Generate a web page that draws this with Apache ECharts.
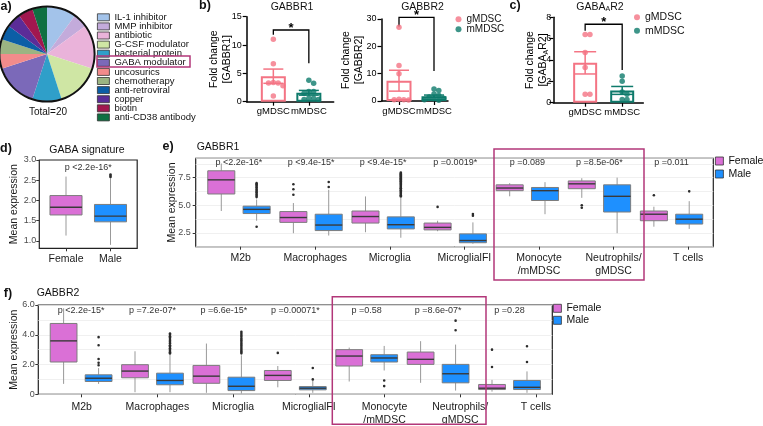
<!DOCTYPE html>
<html><head><meta charset="utf-8">
<script src="https://cdn.jsdelivr.net/npm/echarts@6/dist/echarts.min.js"></script>
<style>html,body{margin:0;padding:0;background:#fff}#c{width:763px;height:426px}</style>
</head><body><div id="c"></div>
<script>
// ================= DATA =================
// a) drug classes (Total = 20)
const drugClasses = ['IL-1 inhibitor','MMP inhibitor','antibiotic','G-CSF modulator','bacterial protein','GABA modulator','uncosurics','chemotherapy','anti-retroviral','copper','biotin','anti-CD38 antibody'];
const drugCounts = [2,1,3,3,2,3,1,1,1,1,1,1];
// b) / c) fold change per sample
const mdscGroups = ['gMDSC','mMDSC'];
const gabbr1G = [11.0, 6.7, 3.4, 3.3, 3.3, 2.8, 1.0];
const gabbr1M = [3.8, 3.25, 1.8, 1.8, 1.5, 0.6, 0.6, 0.4, 0.4];
const gabbr2G = [27, 13, 10, 0.6, 0.5, 0.5, 0.4];
const gabbr2M = [4.4, 3.8, 2.6, 2.0, 1.5, 1.0, 0.8, 0.5, 0.3, 0.2];
const gabaar2G = [6.4, 6.4, 4.7, 3.3, 0.8, 0.8];
const gabaar2M = [2.5, 2.0, 1.0, 0.8, 0.3, 0.3];
// d) GABA signature  [min, Q1, median, Q3, max]
const sexes = ['Female','Male'];
const sigBox = [[1.13,1.64,1.83,2.12,2.59],[0.90,1.47,1.61,1.90,2.55]];
const sigOut = [[1,2.58],[1,2.61],[1,2.64]];
const sigP = ['p <2.2e-16*'];
// e) / f) per cell type
const cellTypes = ['M2b','Macrophages','Microglia','MicroglialFI','Monocyte\n/mMDSC','Neutrophils/\ngMDSC','T cells'];
const r1Female = [[4.48,6.02,7.30,8.12,8.78],[2.47,3.45,3.89,4.43,5.20],[2.56,3.39,3.98,4.48,5.80],[2.65,2.77,3.00,3.39,3.60],[5.81,6.32,6.56,6.85,7.00],[5.67,6.50,6.94,7.20,7.45],[3.06,3.60,4.19,4.48,4.87]];
const r1Male   = [[3.60,4.25,4.63,4.92,5.52],[2.26,2.71,3.21,4.19,6.40],[2.06,2.86,3.24,3.95,5.67],[1.52,1.61,1.81,2.41,3.45],[4.19,5.43,6.32,6.61,7.09],[2.47,4.39,5.81,6.85,7.50],[2.86,3.30,3.74,4.19,5.37]];
const r1FemaleOut = [[1,6.9],[1,6.45],[1,5.95],[3,4.85],[5,5.0],[5,4.78],[6,5.9]];
const r1MaleOut = [[0,7.0],[0,6.9],[0,6.78],[0,6.66],[0,6.57],[0,6.43],[0,6.31],[0,6.2],[0,6.12],[0,5.98],[0,5.85],[0,5.74],[0,3.05],
  [1,7.1],[1,6.65],
  [2,7.95],[2,7.88],[2,7.8],[2,7.71],[2,7.63],[2,7.52],[2,7.44],[2,7.35],[2,7.25],[2,7.17],[2,7.06],[2,6.97],[2,6.88],[2,6.76],[2,6.66],[2,6.55],[2,6.47],[2,6.36],[2,6.24],[2,6.13],[2,6.03],[2,5.91],[2,5.8],
  [3,4.2],[3,4.05],[6,6.26]];
const r1P = ['p <2.2e-16*','p <9.4e-15*','p <9.4e-15*','p =0.0019*','p =0.089','p =8.5e-06*','p =0.011'];
const r2Female = [[0.70,2.17,3.59,4.76,5.78],[0.14,1.11,1.56,1.99,2.89],[0.10,0.74,1.22,1.94,3.41],[0.47,0.93,1.27,1.60,1.90],[0.86,1.90,2.57,3.00,3.14],[0.77,2.01,2.35,2.84,3.57],[0.18,0.32,0.41,0.66,0.97]];
const r2Male   = [[0.70,0.86,1.08,1.31,1.76],[0.14,0.64,0.93,1.42,2.66],[0.05,0.25,0.54,1.15,2.62],[0.10,0.30,0.41,0.52,0.93],[1.60,2.17,2.44,2.66,3.25],[0.25,0.77,1.38,2.01,3.34],[0.10,0.32,0.47,0.93,1.54]];
const r2FemaleOut = [[3,2.78],[6,3.0],[6,1.83]];
const r2MaleOut = [[0,3.84],[0,3.3],[0,2.37],[0,2.12],[0,1.95],
  [1,4.08],[1,4.0],[1,3.9],[1,3.82],[1,3.71],[1,3.6],[1,3.52],[1,3.41],[1,3.3],[1,3.22],[1,3.1],[1,3.0],[1,2.91],[1,2.82],[1,2.74],
  [2,4.2],[2,4.1],[2,3.98],[2,3.88],[2,3.77],[2,3.66],[2,3.57],[2,3.45],[2,3.34],[2,3.25],[2,3.13],[2,3.02],[2,2.93],[2,2.84],[2,2.75],
  [3,1.77],[3,1.0],[4,0.93],[4,0.55],[5,4.95],[5,4.3],[6,3.23],[6,2.17]];
const r2P = ['p <2.2e-15*','p =7.2e-07*','p =6.6e-15*','p =0.00071*','p =0.58','p =8.6e-07*','p =0.28'];
const dTicks = [1.0,1.5,2.0,2.5,3.0];
const eTicks = [2.5,5.0,7.5];

// ================= STYLE =================
const FONT = '"Liberation Sans", Arial, Helvetica, sans-serif';
const pieColors = ['#a3c3ea','#c3abdb','#eab3da','#cfe6a4','#2f9fc9','#7b69b9','#f28b8b','#9bb482','#0b5ea6','#5b2c98','#a1174f','#0f7042'];
const C_G = '#f47484', C_M = '#0e7a6b', C_F = '#DA70D6', C_MA = '#1E90FF', HL = '#b23779';

function mean(a){return a.reduce((s,v)=>s+v,0)/a.length;}
function sem(a){const m=mean(a);return Math.sqrt(a.reduce((s,x)=>s+(x-m)*(x-m),0)/(a.length-1)/a.length);}
function swarm(vals, center, pxX, pxY){
  const d=4.6, step=2.4, placed=[], res=[];
  const order = vals.map((v,i)=>i).sort((a,b)=>vals[b]-vals[a]);
  order.forEach(i=>{
    const y=vals[i]*pxY; let dx=0;
    for(let k=0;k<40;k++){
      const cand = k===0?0:(k%2===1?1:-1)*Math.ceil(k/2)*step;
      if(placed.every(p=>Math.hypot(p[0]-cand,p[1]-y)>=d)){dx=cand;break;}
    }
    placed.push([dx,y]); res.push([center+dx/pxX, vals[i]]);
  });
  return res;
}

const grids=[], xAxes=[], yAxes=[], series=[];
function addGrid(g){grids.push(Object.assign({outerBoundsMode:'none',containLabel:false},g));return grids.length-1;}

// ---- a) pie
series.push({type:'pie', center:[47,54], radius:[0,47], startAngle:90, clockwise:true, silent:true,
  label:{show:false}, labelLine:{show:false}, itemStyle:{borderWidth:0},
  data: drugClasses.map((n,i)=>({name:n, value:drugCounts[i], itemStyle:{color:pieColors[i]}}))});
series.push({type:'pie', center:[47,54], radius:[46.6,48.6], silent:true, label:{show:false}, labelLine:{show:false},
  data:[{value:1, itemStyle:{color:'#111'}}]});

// ---- b) c) bar + dot plots
const barPanels = [
  {g:gabbr1G, m:gabbr1M, pos:[0.75,1.75], xmax:2.45, ymax:15, yint:5, box:[246.7,16.7,87,85], name:'Fold change\n[GABBR1]', nameGap:13.4, br:[12.65,11.8,6.8], cap:10, bw:25},
  {g:gabbr2G, m:gabbr2M, pos:[0.5,1.5], xmax:1.9, ymax:30, yint:10, box:[381.5,19,66.5,82], name:'Fold change\n[GABBR2]', nameGap:16.5, br:[30.6,27.3,11], cap:10, bw:25},
  {g:gabaar2G, m:gabaar2M, pos:[0.86,1.86], xmax:2.43, ymax:8, yint:2, box:[553.3,17.3,90,85.4], name:'{n|Fold change}\n{n|[GABA}{s|A}{n|R2]}', nameGap:4, br:[7.35,6.75,3.06], cap:11, bw:24, lm:2}
];
barPanels.forEach(P=>{
  const gi = addGrid({left:P.box[0], top:P.box[1], width:P.box[2], height:P.box[3]});
  const pos=P.pos;
  xAxes.push({type:'value', gridIndex:gi, min:0, max:P.xmax,
    axisLine:{show:true, lineStyle:{color:'#000', width:1.5}},
    axisTick:{show:true, customValues:pos, length:4, lineStyle:{color:'#000', width:1.2}},
    axisLabel:{customValues:pos, showMinLabel:true, showMaxLabel:true, hideOverlap:false,
      formatter:v=> v<(pos[0]+pos[1])/2?mdscGroups[0]:mdscGroups[1], fontSize:9.5, color:'#000', margin:5, fontFamily:FONT},
    splitLine:{show:false}});
  yAxes.push({type:'value', gridIndex:gi, min:0, max:P.ymax, interval:P.yint,
    axisLine:{show:true, lineStyle:{color:'#000', width:1.5}},
    axisTick:{show:true, length:4, lineStyle:{color:'#000', width:1.2}},
    axisLabel:{fontSize:9, color:'#000', margin:P.lm||5, fontFamily:FONT, showMinLabel:true, showMaxLabel:true}, splitLine:{show:false},
    name:P.name, nameLocation:'middle', nameRotate:90, nameGap:P.nameGap, nameMoveOverlap:false,
    nameTextStyle:{fontSize:10.5, lineHeight:12.5, color:'#000', fontFamily:FONT,
      rich:{n:{fontSize:10.5, lineHeight:12.5, fontFamily:FONT, color:'#000'}, s:{fontSize:7, lineHeight:12.5, verticalAlign:'bottom', fontFamily:FONT, color:'#000'}}}});
  const pxX = P.box[2]/P.xmax, pxY = P.box[3]/P.ymax;
  const mg = mean(P.g), mm = mean(P.m);
  series.push({type:'bar', xAxisIndex:gi, yAxisIndex:gi, barWidth:P.bw, silent:true, z:2,
    data:[{value:[pos[0],mg], itemStyle:{color:'rgba(255,255,255,0)', borderColor:C_G, borderWidth:2}},
          {value:[pos[1],mm], itemStyle:{color:'rgba(255,255,255,0)', borderColor:C_M, borderWidth:2}}]});
  series.push({type:'custom', xAxisIndex:gi, yAxisIndex:gi, z:3, silent:true,
    dimensions:['x','m','s','c'], encode:{x:'x', y:'m'},
    data:[[pos[0],mg,sem(P.g),0],[pos[1],mm,sem(P.m),1]],
    renderItem:(p,api)=>{
      const x=api.value(0), m=api.value(1), s=api.value(2), col=api.value(3)===0?C_G:C_M;
      const t=api.coord([x,m+s]), b=api.coord([x,m-s]), hw=P.cap;
      const st={stroke:col, lineWidth:1.5};
      return {type:'group', children:[
        {type:'line', shape:{x1:t[0],y1:t[1],x2:b[0],y2:b[1]}, style:st},
        {type:'line', shape:{x1:t[0]-hw,y1:t[1],x2:t[0]+hw,y2:t[1]}, style:st},
        {type:'line', shape:{x1:b[0]-hw,y1:b[1],x2:b[0]+hw,y2:b[1]}, style:st}]};
    }});
  series.push({type:'scatter', name:mdscGroups[0], xAxisIndex:gi, yAxisIndex:gi, symbolSize:5.5, z:4, silent:true,
    itemStyle:{color:C_G}, data:swarm(P.g,pos[0],pxX,pxY)});
  series.push({type:'scatter', name:mdscGroups[1], xAxisIndex:gi, yAxisIndex:gi, symbolSize:5.5, z:4, silent:true,
    itemStyle:{color:C_M}, data:swarm(P.m,pos[1],pxX,pxY)});
  series.push({type:'custom', xAxisIndex:gi, yAxisIndex:gi, z:4, silent:true,
    dimensions:['x1','x2','t','l','r'], encode:{x:'x1', y:'t'},
    data:[[pos[0],pos[1],P.br[0],P.br[1],P.br[2]]],
    renderItem:(p,api)=>{
      const a=api.coord([api.value(0),api.value(3)]), b=api.coord([api.value(0),api.value(2)]),
            c=api.coord([api.value(1),api.value(2)]), d=api.coord([api.value(1),api.value(4)]);
      return {type:'group', children:[
        {type:'polyline', shape:{points:[a,b,c,d]}, style:{stroke:'#000', lineWidth:1.3, fill:null}},
        {type:'text', style:{text:'*', x:(b[0]+c[0])/2, y:b[1]-2, align:'center', verticalAlign:'middle', textAlign:'center', textVerticalAlign:'middle', font:'bold 13px '+FONT, fill:'#000'}}]};
    }});
});

// ---- box helpers
function boxSeries(name, color, gi, rows, off, wf){
  return {type:'custom', name, xAxisIndex:gi, yAxisIndex:gi, z:3, silent:true, itemStyle:{color},
    dimensions:['c','lo','q1','md','q3','hi'], encode:{x:'c', y:['lo','q1','md','q3','hi']},
    data:rows,
    renderItem:(p,api)=>{
      const i=api.value(0), band=api.size([1,0])[0];
      const cx=api.coord([i,api.value(3)])[0]+band*off, w=band*wf;
      const y=k=>api.coord([i,api.value(k)])[1];
      const lo=y(1),q1=y(2),md=y(3),q3=y(4),hi=y(5);
      return {type:'group', children:[
        {type:'line', shape:{x1:cx,y1:hi,x2:cx,y2:q3}, style:{stroke:'#999', lineWidth:1}},
        {type:'line', shape:{x1:cx,y1:q1,x2:cx,y2:lo}, style:{stroke:'#999', lineWidth:1}},
        {type:'rect', shape:{x:cx-w/2,y:q3,width:w,height:q1-q3}, style:{fill:color, stroke:'#7d7d7d', lineWidth:1}},
        {type:'line', shape:{x1:cx-w/2,y1:md,x2:cx+w/2,y2:md}, style:{stroke:'#3a3a3a', lineWidth:1.4}}]};
    }};
}
const rowsOf = data => data.map((d,i)=>[i].concat(d));
function outSeries(gi, pts, off){
  return {type:'custom', xAxisIndex:gi, yAxisIndex:gi, z:4, silent:true,
    dimensions:['c','v'], encode:{x:'c', y:'v'}, data:pts,
    renderItem:(p,api)=>{
      const c=api.coord([api.value(0),api.value(1)]), band=api.size([1,0])[0];
      return {type:'circle', shape:{cx:c[0]+band*off, cy:c[1], r:1.3}, style:{fill:'#2b2b2b'}};
    }};
}
function pSeries(gi, texts, xs, level){
  return {type:'custom', xAxisIndex:gi, yAxisIndex:gi, z:5, silent:true,
    dimensions:['c','k'], encode:{x:'c', y:'k'}, data:texts.map((t,i)=>[xs(i),i]),
    renderItem:(p,api)=>{
      const c=api.coord([api.value(0),level]);
      return {type:'text', style:{text:texts[api.value(1)], x:c[0], y:c[1], align:'center', verticalAlign:'middle', textAlign:'center', textVerticalAlign:'middle', font:'9px '+FONT, fill:'#333'}};
    }};
}
function frameGrid(box){
  return addGrid({left:box[0], top:box[1], width:box[2], height:box[3], show:true, borderColor:'#222', borderWidth:1.2, backgroundColor:'#fff'});
}
const hiddenX = gi=>({type:'value', gridIndex:gi, min:0, max:1, show:false});
const yName = (gap)=>({name:'Mean expression', nameLocation:'middle', nameRotate:90, nameGap:gap, nameMoveOverlap:false,
  nameTextStyle:{fontSize:10.5, color:'#1a1a1a', fontFamily:FONT}});
const yLab = (m)=>({fontSize:9, color:'#4d4d4d', margin:m, fontFamily:FONT});

// ---- d) GABA signature
const dMin=0.815, dMax=3.0;
const dF = frameGrid([39.3,160,97.9,88.3]);
xAxes.push(hiddenX(dF));
yAxes.push({type:'value', gridIndex:dF, min:dMin, max:dMax, axisLine:{show:false}, axisTick:{show:false}, axisLabel:{show:false}, splitLine:{show:false}});
const dD = addGrid({left:43.75, top:160, width:89, height:88.3});
xAxes.push({type:'category', gridIndex:dD, data:sexes, axisLine:{show:false},
  axisTick:{show:true, alignWithLabel:true, length:3, interval:0, lineStyle:{color:'#333'}},
  axisLabel:{fontSize:10.5, color:'#1a1a1a', margin:5, interval:0, fontFamily:FONT}, splitLine:{show:false}});
yAxes.push(Object.assign({type:'value', gridIndex:dD, min:dMin, max:dMax, offset:4.45, axisLine:{show:false},
  axisTick:{show:true, customValues:dTicks, length:3, lineStyle:{color:'#333'}},
  axisLabel:Object.assign(yLab(3),{customValues:dTicks, formatter:v=>v.toFixed(1)}), splitLine:{show:false}}, yName(20)));
const sigRows = rowsOf(sigBox);
series.push(boxSeries('Female', C_F, dD, [sigRows[0]], 0, 0.72));
series.push(boxSeries('Male', C_MA, dD, [sigRows[1]], 0, 0.72));
series.push(outSeries(dD, sigOut, 0));
series.push(pSeries(dF, sigP, ()=>0.5, 2.81));

// ---- e) / f)
function cellPanel(frame, dataLeft, dataWidth, labLeft, labWidth, ymin, ymax, minorInt, tickOpts, labMargin, fem, mal, femOut, malOut, pText, pLevel, nameGap, lblMargin){
  const F = frameGrid(frame);
  xAxes.push(hiddenX(F));
  yAxes.push({type:'value', gridIndex:F, min:ymin, max:ymax, interval:minorInt, axisLine:{show:false}, axisTick:{show:false}, axisLabel:{show:false},
    splitLine:{show:true, lineStyle:{color:'#ececec', width:0.8}}});
  const D = addGrid({left:dataLeft, top:frame[1], width:dataWidth, height:frame[3]});
  xAxes.push({type:'category', gridIndex:D, data:cellTypes, show:false});
  yAxes.push(Object.assign({type:'value', gridIndex:D, min:ymin, max:ymax, offset:dataLeft-frame[0], axisLine:{show:false},
    axisTick:Object.assign({show:true, length:3, lineStyle:{color:'#333'}}, tickOpts.tick),
    axisLabel:Object.assign(yLab(lblMargin), tickOpts.label), splitLine:{show:false}}, tickOpts.base, yName(nameGap)));
  const L = addGrid({left:labLeft, top:frame[1], width:labWidth, height:frame[3]});
  xAxes.push({type:'category', gridIndex:L, data:cellTypes, min:0, max:cellTypes.length-1, axisLine:{show:false},
    axisTick:{show:true, alignWithLabel:true, interval:0, length:3, lineStyle:{color:'#333'}},
    axisLabel:{fontSize:10.5, color:'#1a1a1a', margin:labMargin, lineHeight:13, interval:0, fontFamily:FONT}, splitLine:{show:false}});
  yAxes.push({type:'value', gridIndex:L, min:0, max:1, show:false});
  series.push(boxSeries('Female', C_F, D, rowsOf(fem), -0.245, 0.375));
  series.push(boxSeries('Male', C_MA, D, rowsOf(mal), 0.245, 0.375));
  series.push(outSeries(D, femOut, -0.245));
  series.push(outSeries(D, malOut, 0.245));
  series.push(pSeries(D, pText, i=>i, pLevel));
}
cellPanel([195.7,158.3,517.6,88.4], 202.9, 504.7, 203.4, 522, 1.25, 9.25, 1.25,
  {tick:{customValues:eTicks}, label:{customValues:eTicks, formatter:v=>v.toFixed(1)}, base:{}},
  5, r1Female, r1Male, r1FemaleOut, r1MaleOut, r1P, 8.89, 18, 5);
cellPanel([38.3,305,514,89.3], 45.4, 499.8, 43.85, 529.9, 0, 6, 1,
  {tick:{}, label:{formatter:v=>v===0?'0':v.toFixed(1)}, base:{interval:2}},
  6.5, r2Female, r2Male, r2FemaleOut, r2MaleOut, r2P, 5.66, 19, 3.5);

// ---- text & highlight elements
const T = (text,x,y,font,extra)=>Object.assign({type:'text', x, y, silent:true, style:{text, font, fill:'#111', align:'center', verticalAlign:'middle', textAlign:'center', textVerticalAlign:'middle'}}, extra||{});
const B = 'bold 12.5px '+FONT, N = '10.5px '+FONT;
const graphics = [
  T('a)',6,7,B), T('b)',205,6,B), T('c)',515,6,B), T('d)',6,149,B), T('e)',168,147,B), T('f)',8,294,B),
  T('GABBR1',292,7,N), T('GABBR2',422.5,7,N), T('GABA signature',87,150,N), T('GABBR1',218,147,N), T('GABBR2',58,293,N),
  T('Total=20',48,112,'10px '+FONT),
  {type:'text', x:600, y:7, silent:true, style:{text:'{n|GABA}{s|A}{n|R2}', align:'center', verticalAlign:'middle', textAlign:'center', textVerticalAlign:'middle',
    rich:{n:{font:N, fill:'#111', lineHeight:12}, s:{font:'7px '+FONT, fill:'#111', lineHeight:12, verticalAlign:'bottom'}}}},
  {type:'rect', silent:true, shape:{x:97,y:56,width:93,height:11}, style:{fill:'none', stroke:HL, lineWidth:1.5}, z:100},
  {type:'rect', silent:true, shape:{x:494,y:149,width:150,height:131}, style:{fill:'none', stroke:HL, lineWidth:1.5}, z:100},
  {type:'rect', silent:true, shape:{x:332.3,y:296.7,width:153.7,height:127.6}, style:{fill:'none', stroke:HL, lineWidth:1.5}, z:100}
];

const legText = (fs,lh)=>({fontSize:fs, lineHeight:lh, color:'#111', fontFamily:FONT});
const option = {
  animation:false, backgroundColor:'#fff', textStyle:{fontFamily:FONT},
  grid:grids, xAxis:xAxes, yAxis:yAxes, series,
  legend:[
    {data:drugClasses, orient:'vertical', left:97, top:12.3, padding:0, itemGap:-0.9, itemWidth:12, itemHeight:7, icon:'rect', selectedMode:false,
      itemStyle:{borderColor:'#333', borderWidth:0.8}, textStyle:legText(9.5,8.75)},
    {data:mdscGroups, orient:'vertical', left:455.5, top:14.3, padding:0, itemGap:0, itemWidth:6, itemHeight:6, icon:'circle', selectedMode:false, textStyle:legText(10,10)},
    {data:mdscGroups, orient:'vertical', left:634, top:10.6, padding:0, itemGap:0, itemWidth:6, itemHeight:6, icon:'circle', selectedMode:false, textStyle:legText(10.5,13.4)},
    {data:sexes, orient:'vertical', left:715, top:154.5, padding:0, itemGap:0, itemWidth:8, itemHeight:8, icon:'rect', selectedMode:false,
      itemStyle:{borderColor:'#333', borderWidth:0.8}, textStyle:legText(10.5,13)},
    {data:sexes, orient:'vertical', left:553, top:302.3, padding:0, itemGap:0, itemWidth:8, itemHeight:8, icon:'rect', selectedMode:false,
      itemStyle:{borderColor:'#333', borderWidth:0.8}, textStyle:legText(10.5,12)}
  ],
  graphic:graphics
};
const chart = echarts.init(document.getElementById('c'), null, {width:763, height:426});
chart.setOption(option);
</script></body></html>
